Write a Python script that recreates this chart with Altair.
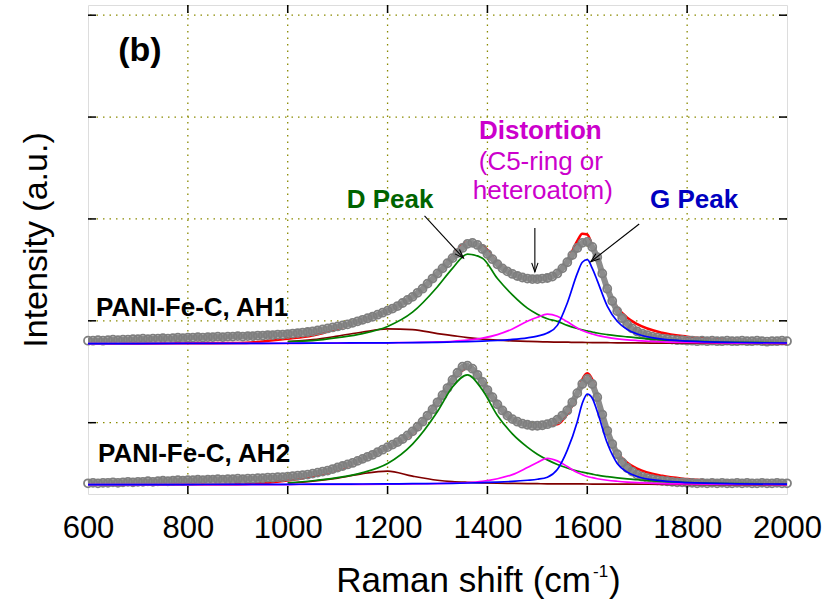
import altair as alt
import pandas as pd

FONT = "Liberation Sans"

# Raman shift sampling of the measured spectra (cm^-1)
shift = list(range(600, 2001, 10))

# Measured intensity above each spectrum's own baseline (a.u.)
ah1_meas = [
    0.03, 0.03, 0.035, 0.03, 0.035, 0.04, 0.035, 0.04, 0.04, 0.045, 0.045,
    0.05, 0.045, 0.05, 0.05, 0.055, 0.05, 0.055, 0.06, 0.055, 0.06,
    0.06, 0.065, 0.06, 0.065, 0.065, 0.07, 0.065, 0.07, 0.07, 0.075,
    0.07, 0.075, 0.075, 0.08, 0.08, 0.085, 0.085, 0.09, 0.09, 0.095,
    0.10, 0.105, 0.11, 0.115, 0.12, 0.13, 0.14, 0.15, 0.16, 0.17,
    0.18, 0.19, 0.205, 0.22, 0.235, 0.25, 0.265, 0.285, 0.305, 0.325,
    0.345, 0.37, 0.40, 0.43, 0.46, 0.50, 0.54, 0.59, 0.64, 0.69,
    0.74, 0.79, 0.84, 0.89, 0.94, 0.98, 0.99, 0.97, 0.93, 0.88,
    0.83, 0.78, 0.74, 0.71, 0.685, 0.665, 0.65, 0.64, 0.635, 0.635,
    0.64, 0.645, 0.66, 0.69, 0.74, 0.80, 0.87, 0.94, 0.99, 1.0,
    0.95, 0.85, 0.69, 0.54, 0.42, 0.32, 0.25, 0.19, 0.15, 0.12,
    0.10, 0.085, 0.07, 0.06, 0.05, 0.045, 0.04, 0.035, 0.035, 0.03,
    0.03, 0.025, 0.03, 0.025, 0.03, 0.025, 0.025, 0.03, 0.025, 0.025,
    0.03, 0.025, 0.025, 0.03, 0.025, 0.02, 0.025, 0.025, 0.03, 0.025,
]
ah2_meas = [
    0.015, 0.02, 0.015, 0.02, 0.02, 0.025, 0.02, 0.025, 0.03, 0.025, 0.03,
    0.03, 0.035, 0.03, 0.035, 0.04, 0.035, 0.04, 0.045, 0.04, 0.045,
    0.045, 0.05, 0.045, 0.05, 0.05, 0.055, 0.05, 0.055, 0.055, 0.06,
    0.055, 0.06, 0.06, 0.065, 0.065, 0.07, 0.07, 0.075, 0.075, 0.08,
    0.085, 0.09, 0.095, 0.10, 0.11, 0.12, 0.13, 0.14, 0.155, 0.17,
    0.185, 0.20, 0.215, 0.235, 0.255, 0.275, 0.295, 0.32, 0.345, 0.37,
    0.395, 0.42, 0.45, 0.485, 0.525, 0.57, 0.62, 0.68, 0.74, 0.81,
    0.88, 0.95, 1.03, 1.10, 1.16, 1.17, 1.14, 1.08, 1.01, 0.93,
    0.86, 0.79, 0.73, 0.68, 0.645, 0.62, 0.60, 0.59, 0.58, 0.58,
    0.585, 0.595, 0.61, 0.64, 0.68, 0.73, 0.81, 0.90, 0.99, 1.04,
    0.99, 0.86, 0.69, 0.53, 0.40, 0.30, 0.22, 0.165, 0.13, 0.10,
    0.08, 0.065, 0.055, 0.045, 0.04, 0.035, 0.03, 0.025, 0.025, 0.02,
    0.02, 0.015, 0.02, 0.015, 0.02, 0.015, 0.02, 0.015, 0.015, 0.02,
    0.015, 0.02, 0.015, 0.015, 0.02, 0.015, 0.015, 0.02, 0.015, 0.015,
]

# Vertical stacking of the two spectra (a.u.)
baseline = {"PANI-Fe-C, AH1": 0.775, "PANI-Fe-C, AH2": -0.61}

# Fitted peak components, sampled on a coarser grid
comp_shift = [600, 700, 800, 900, 1000, 1050, 1100, 1150, 1200, 1250, 1300,
              1330, 1360, 1390, 1420, 1450, 1480, 1500, 1520, 1540, 1560,
              1580, 1590, 1600, 1610, 1620, 1640, 1660, 1680, 1700, 1750,
              1800, 1900, 2000]

ah1_d4 = [None] * 4 + [
    0.02, 0.04, 0.075, 0.115, 0.145, 0.138, 0.10, 0.08, 0.06, 0.045, 0.035,
    0.028, 0.023, 0.02, 0.018, 0.016, 0.015, 0.013, 0.0125, 0.012, 0.0115,
    0.011, 0.01, 0.009, 0.009, 0.008, 0.006, 0.005, 0.003, 0.002]
ah1_d = [None] * 4 + [
    0.02, 0.03, 0.06, 0.10, 0.17, 0.31, 0.56, 0.74, 0.88, 0.84, 0.64,
    0.48, 0.35, 0.29, 0.245, 0.22, 0.18, 0.15, 0.137, 0.125, 0.115,
    0.105, 0.09, 0.078, 0.068, 0.058, 0.038, 0.026, 0.014, 0.009]
ah1_dist = [
    0.002, 0.002, 0.003, 0.003, 0.004, 0.005, 0.006, 0.007, 0.009, 0.012,
    0.018, 0.024, 0.035, 0.055, 0.09, 0.145, 0.22, 0.26, 0.29, 0.27,
    0.215, 0.155, 0.13, 0.11, 0.095, 0.082, 0.062, 0.048, 0.038, 0.031,
    0.018, 0.012, 0.006, 0.004]
ah1_g = [
    0.002, 0.002, 0.003, 0.004, 0.005, 0.006, 0.007, 0.008, 0.009, 0.011,
    0.014, 0.017, 0.02, 0.025, 0.032, 0.042, 0.058, 0.075, 0.105, 0.18,
    0.40, 0.69, 0.80, 0.825, 0.74, 0.62, 0.37, 0.22, 0.14, 0.095,
    0.045, 0.026, 0.012, 0.007]

ah2_d4 = [None] * 4 + [
    0.016, 0.035, 0.065, 0.11, 0.135, 0.085, 0.045, 0.032, 0.025, 0.02,
    0.016, 0.014, 0.012, 0.011, 0.01, 0.01, 0.009, 0.009, 0.0085, 0.008,
    0.0078, 0.0075, 0.007, 0.0065, 0.006, 0.006, 0.005, 0.004, 0.003, 0.002]
ah2_d = [None] * 4 + [
    0.02, 0.04, 0.07, 0.12, 0.21, 0.40, 0.72, 0.96, 1.08, 0.93,
    0.68, 0.50, 0.37, 0.30, 0.245, 0.20, 0.165, 0.135, 0.125, 0.115,
    0.105, 0.095, 0.08, 0.068, 0.058, 0.05, 0.033, 0.022, 0.012, 0.008]
ah2_dist = [
    0.002, 0.002, 0.002, 0.003, 0.003, 0.004, 0.005, 0.005, 0.006, 0.008,
    0.012, 0.016, 0.022, 0.035, 0.06, 0.10, 0.17, 0.22, 0.26, 0.235,
    0.18, 0.12, 0.10, 0.082, 0.07, 0.06, 0.045, 0.035, 0.027, 0.021,
    0.012, 0.008, 0.004, 0.003]
ah2_g = [
    0.002, 0.002, 0.003, 0.004, 0.005, 0.006, 0.007, 0.008, 0.009, 0.011,
    0.013, 0.015, 0.018, 0.022, 0.027, 0.034, 0.045, 0.055, 0.075, 0.15,
    0.34, 0.62, 0.80, 0.89, 0.85, 0.72, 0.41, 0.21, 0.125, 0.082,
    0.038, 0.022, 0.01, 0.006]

components = {
    "PANI-Fe-C, AH1": {"D4": ah1_d4, "D": ah1_d, "Distortion": ah1_dist, "G": ah1_g},
    "PANI-Fe-C, AH2": {"D4": ah2_d4, "D": ah2_d, "Distortion": ah2_dist, "G": ah2_g},
}
comp_colors = {"D4": "#800000", "D": "#008000", "Distortion": "#FF00FF", "G": "#0000FF"}

# Axis ticks and grid positions
x_ticks = [600, 800, 1000, 1200, 1400, 1600, 1800, 2000]
x_grid = [800, 1000, 1200, 1400, 1600, 1800]
y_grid = [0, 1, 2, 3, 4]

# Annotation arrows (data coordinates) and arrow-head directions (degrees)
arrow_x = [1274, 1495, 1704]
arrow_y = [2.03, 1.91, 1.95]
arrow_x2 = [1352, 1495, 1607]
arrow_y2 = [1.615, 1.48, 1.58]
arrow_angle = [136, 180, 232]

# ---------------------------------------------------------------- tables
meas_rows = []
for name, vals in (("PANI-Fe-C, AH1", ah1_meas), ("PANI-Fe-C, AH2", ah2_meas)):
    for s, v in zip(shift, vals):
        meas_rows.append({"shift": s, "sample": name, "intensity": v + baseline[name]})
meas = pd.DataFrame(meas_rows)

comp_rows, fit_rows = [], []
for name, comps in components.items():
    for i, s in enumerate(comp_shift):
        total = 0.0
        for cname, vals in comps.items():
            v = vals[i]
            if v is None:
                continue
            total += v
            comp_rows.append({"shift": s, "sample": name, "component": cname,
                              "intensity": v + baseline[name]})
        fit_rows.append({"shift": s, "sample": name, "intensity": total + baseline[name]})
comp = pd.DataFrame(comp_rows)
fit = pd.DataFrame(fit_rows)

arrows = pd.DataFrame({"x": arrow_x, "y": arrow_y, "x2": arrow_x2, "y2": arrow_y2,
                       "angle": arrow_angle})

W, H = 699, 489
xscale = alt.Scale(domain=[600, 2000], nice=False, zero=False)
yscale = alt.Scale(domain=[-0.7, 4.1], nice=False, zero=False)


def X(field):
    return alt.X(field, type="quantitative", scale=xscale,
                 axis=alt.Axis(values=x_ticks, format="d", title=None, ticks=False,
                               tickSize=0, domain=False, grid=False, labelFont=FONT,
                               labelFontSize=31, labelColor="black",
                               labelPadding=19, labelFlush=False))


def Y(field):
    return alt.Y(field, type="quantitative", scale=yscale, axis=None)


# dotted grid
vgrid = alt.Chart(pd.DataFrame({"v": x_grid})).mark_rule(
    color="#8a8a00", strokeDash=[1.5, 5], strokeWidth=1.3).encode(x=X("v"))
hgrid = alt.Chart(pd.DataFrame({"v": y_grid})).mark_rule(
    color="#8a8a00", strokeDash=[1.5, 5], strokeWidth=1.3).encode(y=Y("v"))

# inward ticks on all four sides
tick_df = pd.DataFrame({"v": x_grid})
ytick_df = pd.DataFrame({"v": y_grid})
tick_style = dict(color="black", strokeWidth=1.5)
xt_bottom = alt.Chart(tick_df).mark_rule(**tick_style).encode(
    x=X("v"), y=alt.value(H), y2=alt.value(H - 8))
xt_top = alt.Chart(tick_df).mark_rule(**tick_style).encode(
    x=X("v"), y=alt.value(0), y2=alt.value(8))
yt_left = alt.Chart(ytick_df).mark_rule(**tick_style).encode(
    y=Y("v"), x=alt.value(0), x2=alt.value(8))
yt_right = alt.Chart(ytick_df).mark_rule(**tick_style).encode(
    y=Y("v"), x=alt.value(W - 8), x2=alt.value(W))

# fitted envelope
fit_line = alt.Chart(fit).mark_line(color="#FF0000", strokeWidth=2.6,
                                    interpolate="monotone").encode(
    x=X("shift"), y=Y("intensity"), detail="sample:N")

# measured spectra: overlapping open circles
meas_band = alt.Chart(meas).mark_line(color="#8c8c8c", strokeWidth=6).encode(
    x=X("shift"), y=Y("intensity"), detail="sample:N")
meas_pts = alt.Chart(meas).mark_point(shape="circle", size=64, filled=False,
                                      color="#7f7f7f", strokeWidth=1.8,
                                      opacity=1).encode(
    x=X("shift"), y=Y("intensity"), detail="sample:N")

# individual peak components
comp_layers = []
for cname in ["D4", "D", "Distortion", "G"]:
    comp_layers.append(
        alt.Chart(comp[comp["component"] == cname]).mark_line(
            color=comp_colors[cname], strokeWidth=1.7, interpolate="monotone"
        ).encode(x=X("shift"), y=Y("intensity"), detail="sample:N"))

# arrows
arrow_lines = alt.Chart(arrows).mark_rule(color="black", strokeWidth=1.1).encode(
    x=X("x"), y=Y("y"), x2="x2", y2="y2")
arrow_heads = alt.Chart(arrows).mark_point(
    shape="M -0.35 1 L 0 0 L 0.35 1", filled=False, color="black",
    strokeWidth=1.1, size=324, opacity=1).encode(
    x=X("x2"), y=Y("y2"), angle=alt.Angle("angle:Q", scale=None))


def label(text, x, y, size, color="black", weight="normal", align="center"):
    return alt.Chart(pd.DataFrame({"t": [text]})).mark_text(
        font=FONT, fontSize=size, fontWeight=weight, color=color, align=align,
        baseline="alphabetic").encode(x=alt.datum(x), y=alt.datum(y), text="t:N")


one = pd.DataFrame({"t": [""]})


def pixel_text(text, x, y, size, align="center", angle=0):
    return alt.Chart(one).mark_text(
        font=FONT, fontSize=size, color="black", align=align,
        baseline="alphabetic", angle=angle).encode(
        x=alt.value(x), y=alt.value(y), text=alt.value(text))


texts = [
    label("(b)", 704, 3.55, 34, weight="bold"),
    label("D Peak", 1205, 2.107, 26, color="#006400", weight="bold"),
    label("G Peak", 1814, 2.107, 26, color="#0000C0", weight="bold"),
    label("Distortion", 1506, 2.785, 26, color="#CC00CC", weight="bold"),
    label("(C5-ring or", 1507, 2.48, 26, color="#CC00CC"),
    label("heteroatom)", 1511, 2.196, 26, color="#CC00CC"),
    label("PANI-Fe-C, AH1", 616, 1.047, 26, weight="bold", align="left"),
    label("PANI-Fe-C, AH2", 620, -0.386, 26, weight="bold", align="left"),
    # axis titles
    pixel_text("Raman shift (cm", 503, 587, 35, align="right"),
    pixel_text("-1", 505, 572, 17, align="left"),
    pixel_text(")", 521, 587, 35, align="left"),
    pixel_text("Intensity (a.u.)", -41, 235, 34, angle=270),
]

chart = alt.layer(
    vgrid, hgrid, fit_line, meas_band, meas_pts, *comp_layers,
    xt_bottom, xt_top, yt_left, yt_right, arrow_lines, arrow_heads, *texts
).properties(
    width=W, height=H,
    autosize=alt.AutoSizeParams(type="none"),
    padding={"left": 88, "top": 5, "right": 51, "bottom": 108},
).configure_view(stroke="black", strokeWidth=1.6).configure(background="white")

chart.save("out.html", embed_options={"renderer": "svg", "actions": False})
